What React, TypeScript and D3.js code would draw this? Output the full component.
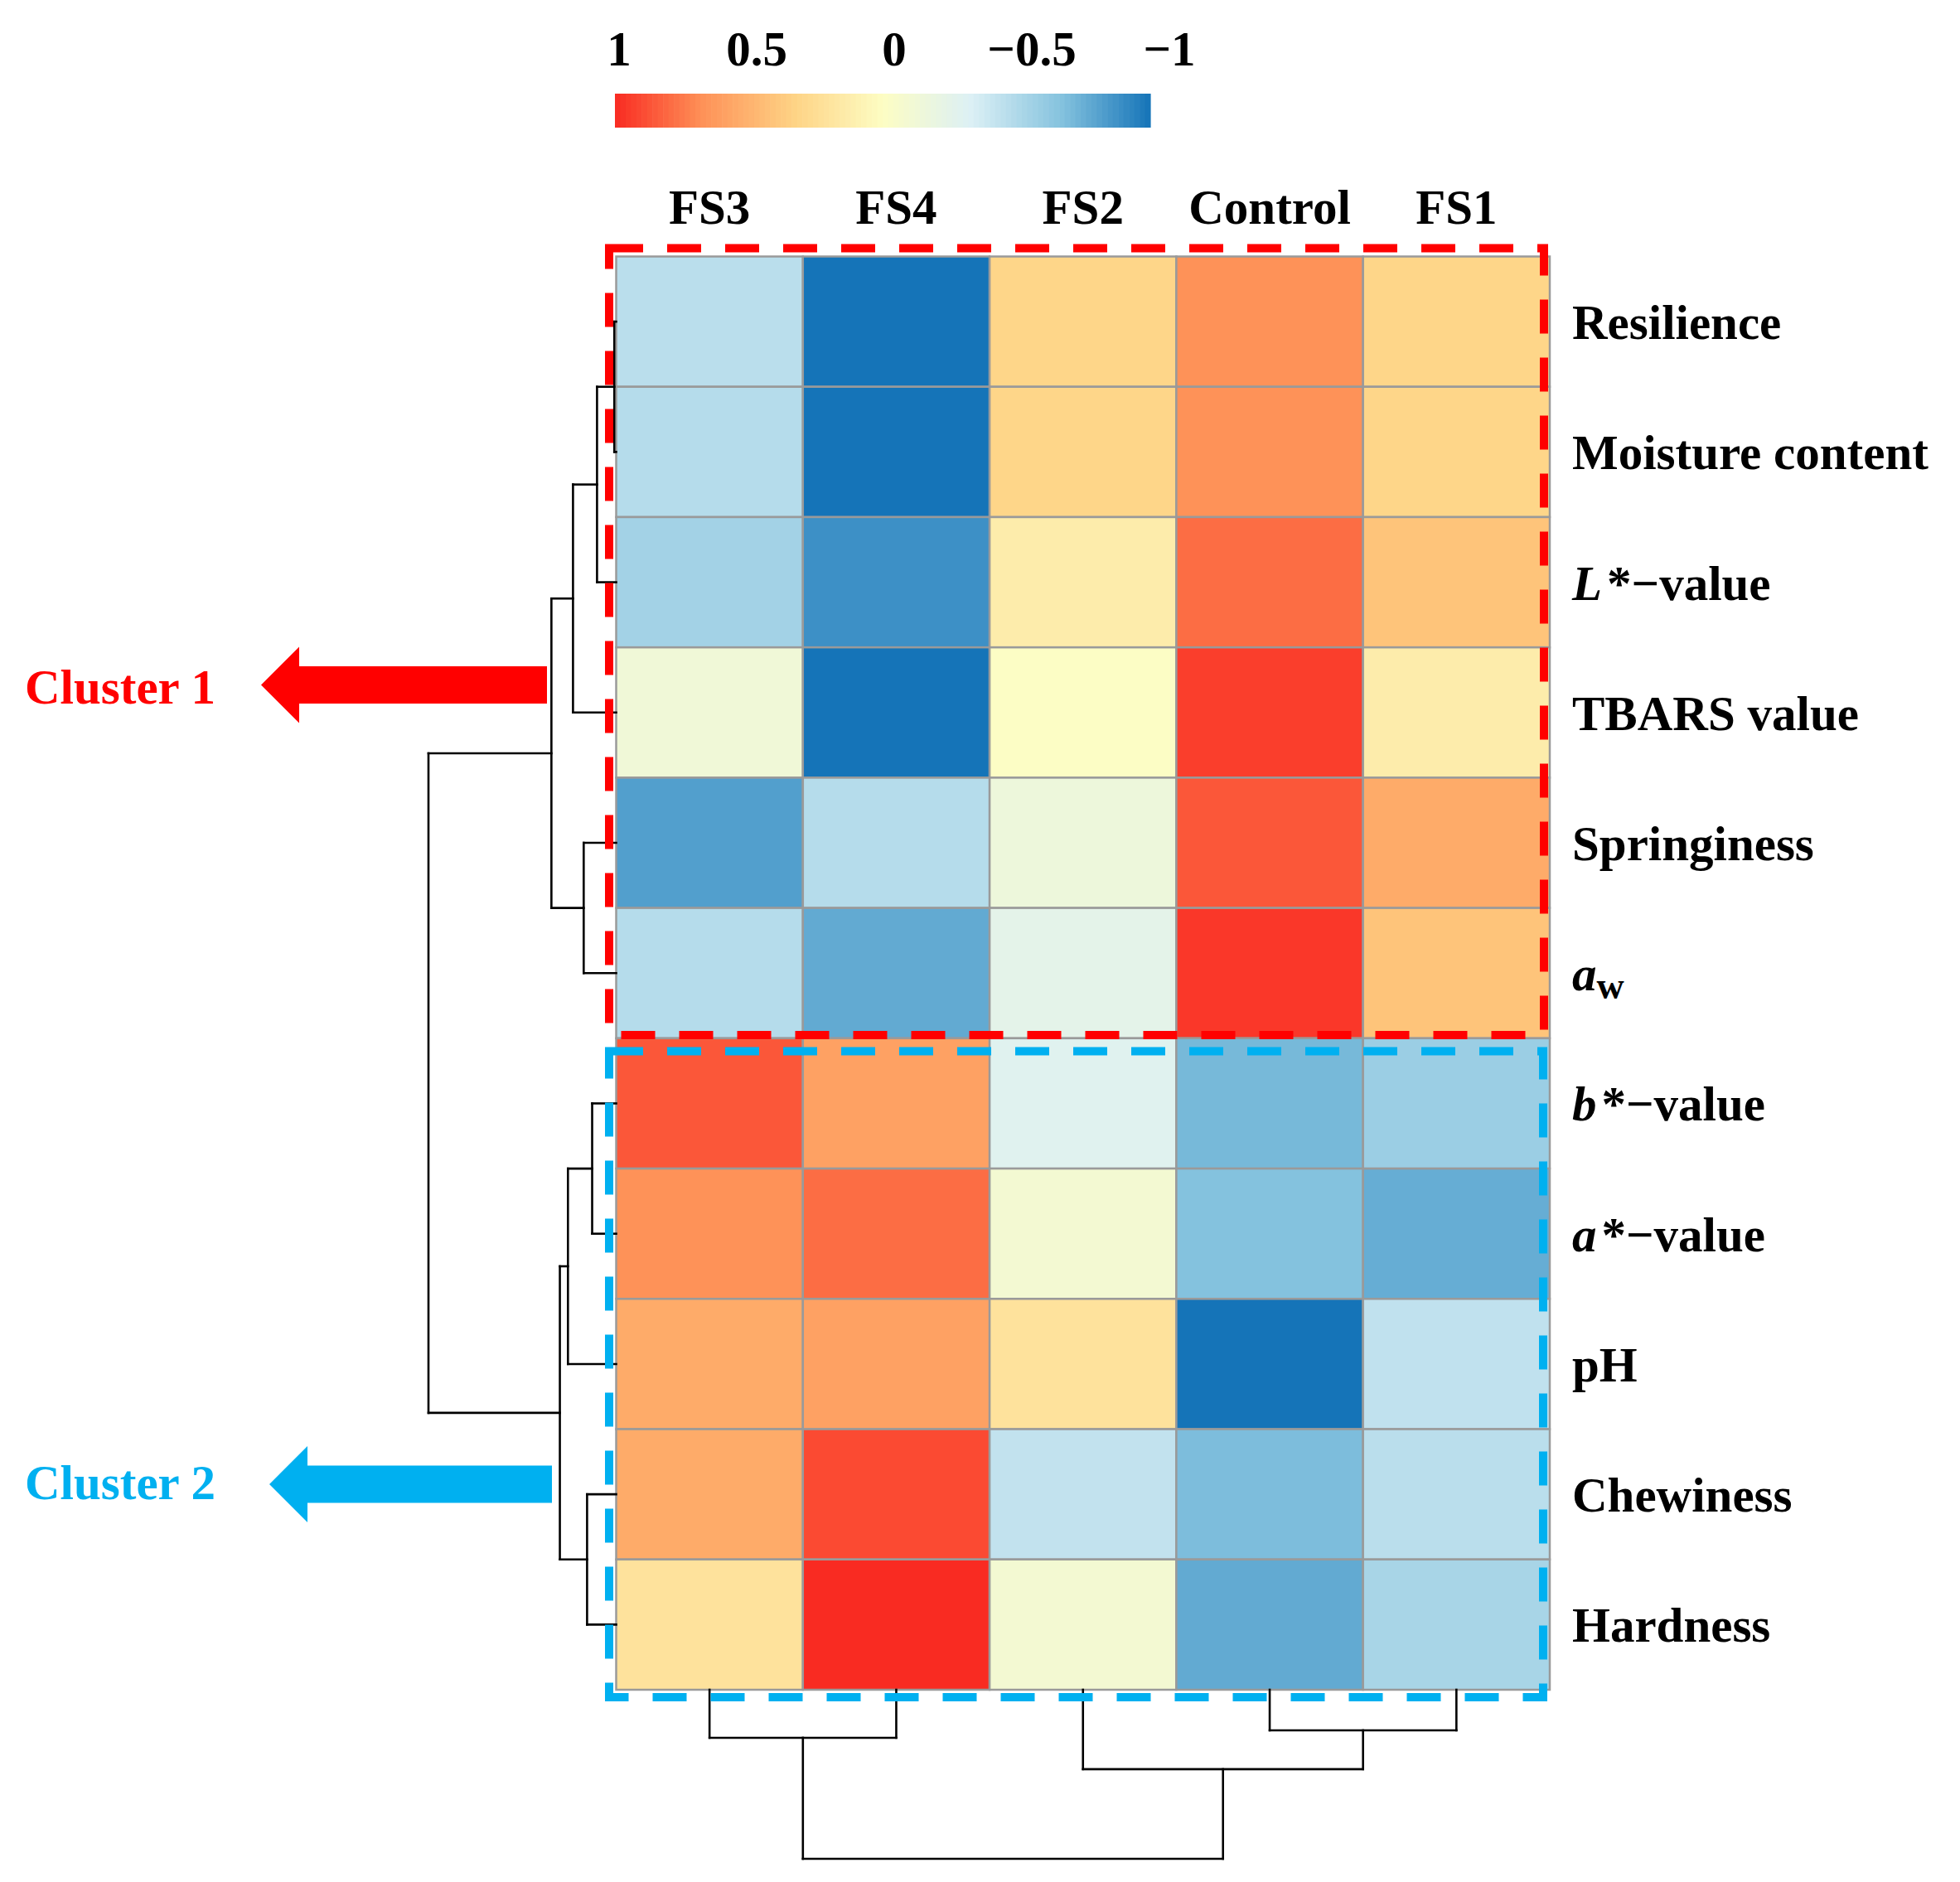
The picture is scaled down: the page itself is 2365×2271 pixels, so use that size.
import React from 'react';
import * as d3 from 'd3';

const WIDTH = 2365;
const HEIGHT = 2271;
const FONT = "'Times New Roman', 'Liberation Serif', serif";

// heatmap columns (already in dendrogram order)
const columns = ['FS3', 'FS4', 'FS2', 'Control', 'FS1'];
// heatmap rows, top to bottom
const rows = ['Resilience', 'Moisture content', 'L*−value', 'TBARS value', 'Springiness', 'aw',
  'b*−value', 'a*−value', 'pH', 'Chewiness', 'Hardness'];

// correlation per row, in the order of `columns`
const resilience = [-0.46, -1.0, 0.31, 0.67, 0.31];
const moisture = [-0.48, -1.0, 0.31, 0.67, 0.31];
const lightness = [-0.55, -0.88, 0.13, 0.79, 0.41];
const tbars = [-0.13, -1.0, -0.01, 0.94, 0.13];
const springiness = [-0.82, -0.48, -0.16, 0.86, 0.54];
const waterActivity = [-0.48, -0.77, -0.25, 0.96, 0.41];
const yellowness = [0.86, 0.59, -0.29, -0.71, -0.58];
const redness = [0.67, 0.79, -0.1, -0.67, -0.76];
const ph = [0.54, 0.59, 0.21, -1.0, -0.44];
const chewiness = [0.54, 0.9, -0.43, -0.69, -0.46];
const hardness = [0.21, 1.0, -0.1, -0.77, -0.53];
const matrix = [resilience, moisture, lightness, tbars, springiness, waterActivity,
  yellowness, redness, ph, chewiness, hardness];

// hclust style merges: negative = leaf (1-based), positive = earlier merge step
const rowMerge = [[-1, -2], [1, -3], [-7, -8], [-10, -11], [-5, -6], [2, -4], [3, -9], [7, 4], [6, 5], [9, 8]];
const rowHeights = [0.1, 1.02, 1.28, 1.55, 1.73, 2.3, 2.57, 3.0, 3.45, 10];
const colMerge = [[-4, -5], [-1, -2], [-3, 1], [2, 3]];
const colHeights = [2.4, 2.84, 4.7, 10];

// colour legend
const legendTicks = [1, 0.5, 0, -0.5, -1];
const colorStops = [1, 0.67, 0.33, 0, -0.33, -0.67, -1];
const palette = ['#F92B22', '#FE9258', '#FED385', '#FDFDC3', '#DCF0F5', '#84C2DE', '#1574B8'];

type Seg = {p1: number, h1: number, p2: number, h2: number};

function dendroSegments(merge: number[][], heights: number[], leafPos: (i: number) => number): Seg[] {
  const pos: number[] = [];
  const hs: number[] = [];
  const segs: Seg[] = [];
  const nodePos = (k: number) => k < 0 ? leafPos(-k - 1) : pos[k - 1];
  const nodeH = (k: number) => k < 0 ? 0 : hs[k - 1];
  merge.forEach(([a, b], i) => {
    const pa = nodePos(a);
    const pb = nodePos(b);
    const h = heights[i];
    segs.push({p1: pa, h1: nodeH(a), p2: pa, h2: h});
    segs.push({p1: pb, h1: nodeH(b), p2: pb, h2: h});
    segs.push({p1: pa, h1: h, p2: pb, h2: h});
    pos.push((pa + pb) / 2);
    hs.push(h);
  });
  return segs;
}

export default class App extends React.Component {
  svgRef = React.createRef<SVGSVGElement>();

  componentDidMount(): void {
    this.draw();
  }

  render() {
    return (
      <div style={{position: 'absolute', left: 0, top: 0, background: '#fff'}}>
        <svg ref={this.svgRef} width={WIDTH} height={HEIGHT}
          style={{display: 'block', fontFamily: FONT}}/>
      </div>
    );
  }

  draw() {
    const svg = d3.select(this.svgRef.current);
    svg.selectAll('*').remove();

    svg.append('rect').attr('width', WIDTH).attr('height', HEIGHT).attr('fill', '#fff');

    const color = d3.scaleLinear<string>()
        .domain(colorStops)
        .range(palette)
        .interpolate(d3.interpolateRgb)
        .clamp(true);

    const x = d3.scaleBand().domain(columns).range([743.5, 1870]);
    const y = d3.scaleBand().domain(rows).range([309.5, 2039]);

    // cells
    const grid = svg.append('g');
    matrix.forEach((vals, r) => {
      grid.selectAll(null)
          .data(vals)
          .join('rect')
          .attr('x', (d, c) => x(columns[c])!)
          .attr('y', y(rows[r])!)
          .attr('width', x.bandwidth())
          .attr('height', y.bandwidth())
          .attr('fill', (d) => color(d))
          .attr('stroke', '#9a9a9a')
          .attr('stroke-width', 2.5);
    });

    // row dendrogram (left)
    const hx = d3.scaleLinear().domain([0, 10]).range([743.5, 517]);
    const rowSegs = dendroSegments(rowMerge, rowHeights, (i) => y(rows[i])! + y.bandwidth() / 2);
    svg.append('g').selectAll('line')
        .data(rowSegs)
        .join('line')
        .attr('x1', (d) => hx(d.h1))
        .attr('x2', (d) => hx(d.h2))
        .attr('y1', (d) => d.p1)
        .attr('y2', (d) => d.p2)
        .attr('stroke', '#000')
        .attr('stroke-width', 2.6)
        .attr('stroke-linecap', 'square');

    // column dendrogram (bottom)
    const hy = d3.scaleLinear().domain([0, 10]).range([2039, 2243]);
    const colSegs = dendroSegments(colMerge, colHeights, (i) => x(columns[i])! + x.bandwidth() / 2);
    svg.append('g').selectAll('line')
        .data(colSegs)
        .join('line')
        .attr('x1', (d) => d.p1)
        .attr('x2', (d) => d.p2)
        .attr('y1', (d) => hy(d.h1))
        .attr('y2', (d) => hy(d.h2))
        .attr('stroke', '#000')
        .attr('stroke-width', 2.6)
        .attr('stroke-linecap', 'square');

    // column labels
    svg.append('g').selectAll('text')
        .data(columns)
        .join('text')
        .attr('x', (d) => x(d)! + x.bandwidth() / 2)
        .attr('y', 270)
        .attr('text-anchor', 'middle')
        .attr('font-size', 59)
        .attr('font-weight', 'bold')
        .text((d) => d);

    // row labels, some with italic symbols
    const rowLabels = svg.append('g')
        .attr('font-size', 59)
        .attr('font-weight', 'bold');
    rows.forEach((name) => {
      const t = rowLabels.append('text')
          .attr('x', 1897)
          .attr('y', y(name)! + y.bandwidth() / 2 + 21);
      if (name === 'aw') {
        t.append('tspan').attr('font-style', 'italic').text('a');
        t.append('tspan').attr('font-size', 46).attr('dy', 10).text('w');
      } else if (/^[Lab]\*/.test(name)) {
        t.append('tspan').attr('font-style', 'italic').text(name[0]);
        t.append('tspan').attr('dx', 6).text(name.slice(1));
      } else {
        t.text(name);
      }
    });

    // cluster boxes
    svg.append('rect')
        .attr('x', 735).attr('y', 299.5)
        .attr('width', 1128).attr('height', 949.5)
        .attr('fill', 'none')
        .attr('stroke', '#FF0000')
        .attr('stroke-width', 10)
        .attr('stroke-dasharray', '41 29');
    svg.append('rect')
        .attr('x', 735).attr('y', 1268.5)
        .attr('width', 1127).attr('height', 779.5)
        .attr('fill', 'none')
        .attr('stroke', '#00B0F0')
        .attr('stroke-width', 10)
        .attr('stroke-dasharray', '41 29');

    // arrows + cluster names
    const arrow = (tip: number, headX: number, end: number, cy: number, fill: string) => {
      const pts = [[tip, cy], [headX, cy - 46], [headX, cy - 22.5], [end, cy - 22.5],
        [end, cy + 22.5], [headX, cy + 22.5], [headX, cy + 46]];
      svg.append('polygon')
          .attr('points', pts.map((p) => p.join(',')).join(' '))
          .attr('fill', fill);
    };
    arrow(315, 361, 660, 826.5, '#FF0000');
    arrow(325, 371, 666, 1791, '#00B0F0');

    svg.append('text')
        .attr('x', 30).attr('y', 849)
        .attr('font-size', 59)
        .attr('font-weight', 'bold')
        .attr('fill', '#FF0000')
        .text('Cluster 1');
    svg.append('text')
        .attr('x', 30).attr('y', 1809)
        .attr('font-size', 59)
        .attr('font-weight', 'bold')
        .attr('fill', '#00B0F0')
        .text('Cluster 2');

    // colour legend
    const lx = d3.scaleLinear().domain([1, -1]).range([742, 1388]);
    const steps = d3.range(100).map((i) => 1 - (2 * i) / 100);
    const stepW = (lx(-1) - lx(1)) / 100;
    svg.append('g').selectAll('rect')
        .data(steps)
        .join('rect')
        .attr('x', (d) => lx(d))
        .attr('y', 113)
        .attr('width', stepW + 0.6)
        .attr('height', 41)
        .attr('fill', (d) => color(d - 0.01));

    const labelX = d3.scaleLinear().domain([1, -1]).range([747, 1411]);
    svg.append('g').selectAll('text')
        .data(legendTicks)
        .join('text')
        .attr('x', (d) => labelX(d))
        .attr('y', 79)
        .attr('text-anchor', 'middle')
        .attr('font-size', 59)
        .attr('font-weight', 'bold')
        .text((d) => (d < 0 ? '−' : '') + Math.abs(d));
  }
}
